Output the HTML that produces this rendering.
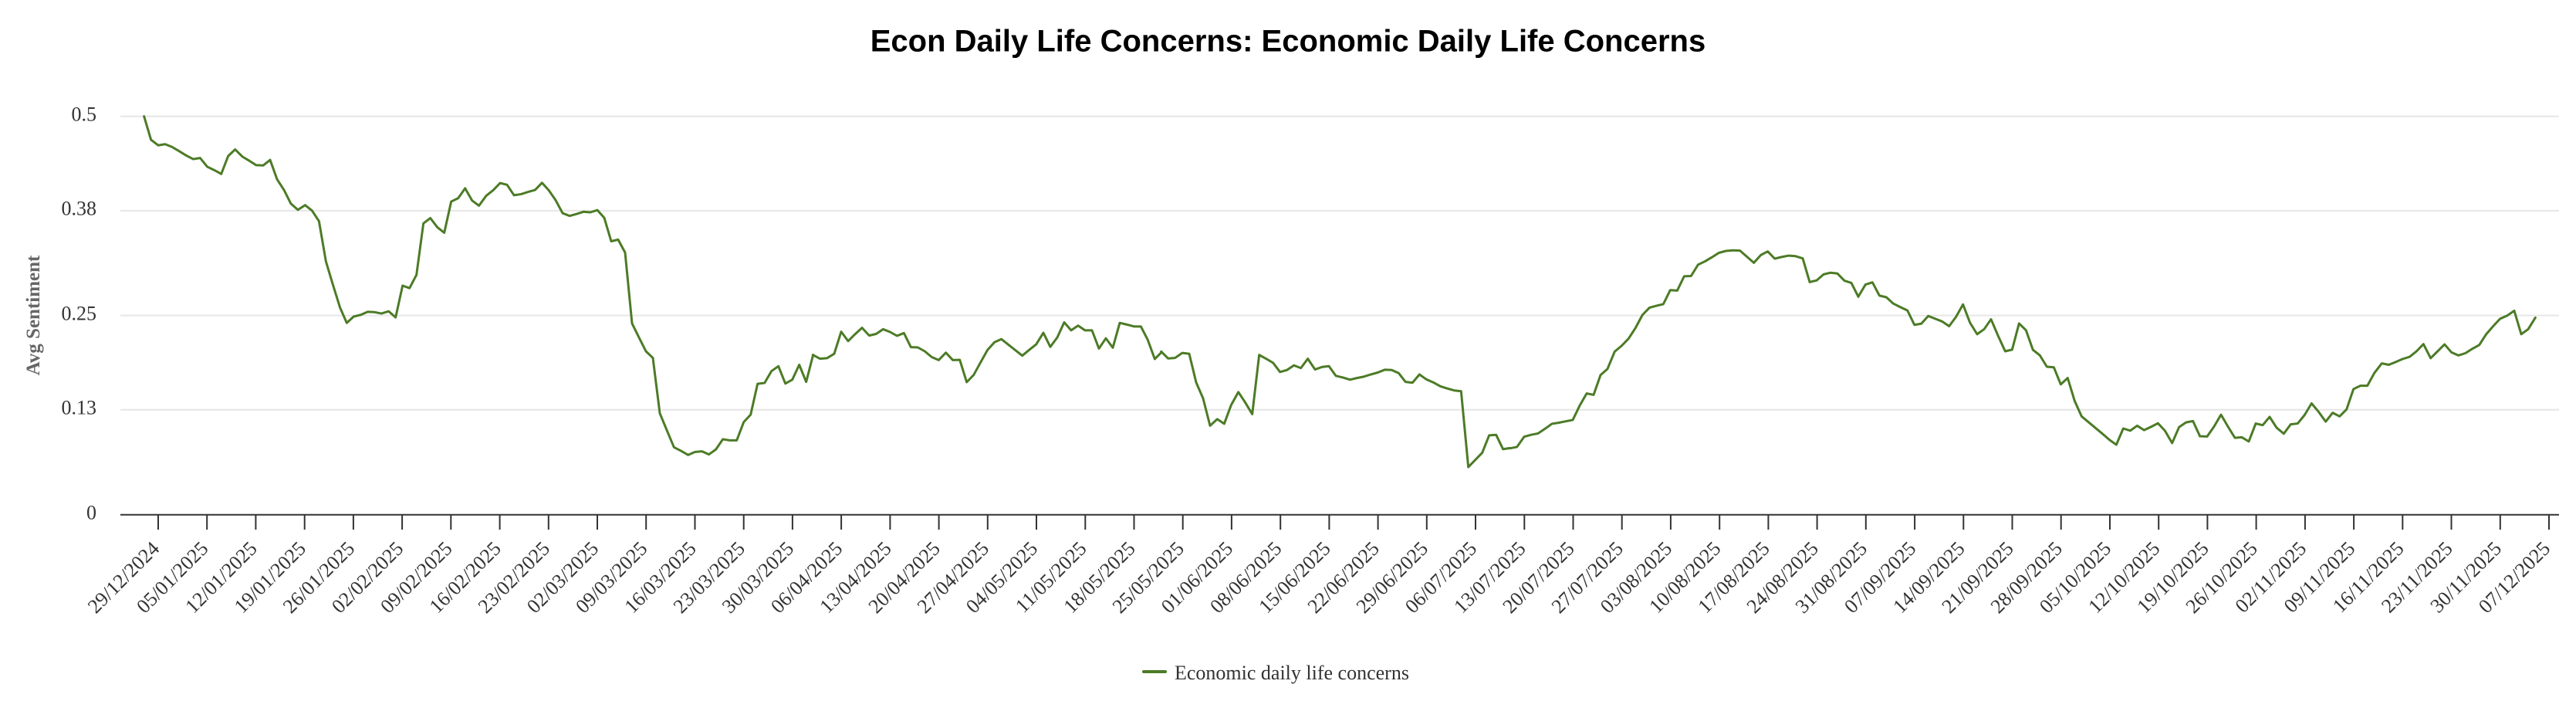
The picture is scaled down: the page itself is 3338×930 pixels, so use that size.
<!DOCTYPE html>
<html>
<head>
<meta charset="utf-8">
<style>
  html,body{margin:0;padding:0;background:#ffffff;}
  body{width:3338px;height:930px;overflow:hidden;}
  svg{display:block;}
  .xl{font-family:"Liberation Serif",serif;font-size:26px;fill:#333333;}
  .yl{font-family:"Liberation Serif",serif;font-size:26px;fill:#333333;}
</style>
</head>
<body>
<svg width="3338" height="930" viewBox="0 0 3338 930" xmlns="http://www.w3.org/2000/svg">
  <rect x="0" y="0" width="3338" height="930" fill="#ffffff"/>

  <!-- Title -->
  <text x="1669" y="66.7" text-anchor="middle" font-family="Liberation Sans, sans-serif" font-weight="bold" font-size="40" fill="#000000">Econ Daily Life Concerns: Economic Daily Life Concerns</text>

  <!-- Gridlines -->
  <g stroke="#e6e6e6" stroke-width="2">
    <line x1="156" y1="150.7" x2="3316" y2="150.7"/>
    <line x1="156" y1="272.9" x2="3316" y2="272.9"/>
    <line x1="156" y1="408.6" x2="3316" y2="408.6"/>
    <line x1="156" y1="530.7" x2="3316" y2="530.7"/>
  </g>

  <!-- Y tick labels -->
  <text class="yl" x="125" y="156.3" text-anchor="end">0.5</text>
  <text class="yl" x="125" y="278.5" text-anchor="end">0.38</text>
  <text class="yl" x="125" y="414.3" text-anchor="end">0.25</text>
  <text class="yl" x="125" y="536.3" text-anchor="end">0.13</text>
  <text class="yl" x="125" y="672.4" text-anchor="end">0</text>

  <!-- Y axis title -->
  <text transform="translate(51,408.5) rotate(-90)" text-anchor="middle" font-family="Liberation Serif, serif" font-weight="bold" font-size="25" fill="#666666">Avg Sentiment</text>

  <!-- X axis line -->
  <line x1="156" y1="666.8" x2="3316" y2="666.8" stroke="#333333" stroke-width="2"/>

  <!-- X ticks -->
  <path stroke="#333333" stroke-width="2" fill="none" d="
M205.0 667V686 M268.2 667V686 M331.4 667V686 M394.7 667V686 M457.9 667V686
M521.1 667V686 M584.3 667V686 M647.6 667V686 M710.8 667V686 M774.0 667V686
M837.2 667V686 M900.5 667V686 M963.7 667V686 M1026.9 667V686 M1090.1 667V686
M1153.4 667V686 M1216.6 667V686 M1279.8 667V686 M1343.0 667V686 M1406.3 667V686
M1469.5 667V686 M1532.7 667V686 M1595.9 667V686 M1659.2 667V686 M1722.4 667V686
M1785.6 667V686 M1848.8 667V686 M1912.0 667V686 M1975.3 667V686 M2038.5 667V686
M2101.7 667V686 M2164.9 667V686 M2228.2 667V686 M2291.4 667V686 M2354.6 667V686
M2417.8 667V686 M2481.1 667V686 M2544.3 667V686 M2607.5 667V686 M2670.7 667V686
M2734.0 667V686 M2797.2 667V686 M2860.4 667V686 M2923.6 667V686 M2986.9 667V686
M3050.1 667V686 M3113.3 667V686 M3176.5 667V686 M3239.8 667V686 M3303.0 667V686"/>

  <!-- X tick labels -->
  <g class="xl" text-anchor="end">
    <text transform="translate(208.0,712) rotate(-45)">29/12/2024</text>
    <text transform="translate(271.2,712) rotate(-45)">05/01/2025</text>
    <text transform="translate(334.4,712) rotate(-45)">12/01/2025</text>
    <text transform="translate(397.7,712) rotate(-45)">19/01/2025</text>
    <text transform="translate(460.9,712) rotate(-45)">26/01/2025</text>
    <text transform="translate(524.1,712) rotate(-45)">02/02/2025</text>
    <text transform="translate(587.3,712) rotate(-45)">09/02/2025</text>
    <text transform="translate(650.6,712) rotate(-45)">16/02/2025</text>
    <text transform="translate(713.8,712) rotate(-45)">23/02/2025</text>
    <text transform="translate(777.0,712) rotate(-45)">02/03/2025</text>
    <text transform="translate(840.2,712) rotate(-45)">09/03/2025</text>
    <text transform="translate(903.5,712) rotate(-45)">16/03/2025</text>
    <text transform="translate(966.7,712) rotate(-45)">23/03/2025</text>
    <text transform="translate(1029.9,712) rotate(-45)">30/03/2025</text>
    <text transform="translate(1093.1,712) rotate(-45)">06/04/2025</text>
    <text transform="translate(1156.4,712) rotate(-45)">13/04/2025</text>
    <text transform="translate(1219.6,712) rotate(-45)">20/04/2025</text>
    <text transform="translate(1282.8,712) rotate(-45)">27/04/2025</text>
    <text transform="translate(1346.0,712) rotate(-45)">04/05/2025</text>
    <text transform="translate(1409.3,712) rotate(-45)">11/05/2025</text>
    <text transform="translate(1472.5,712) rotate(-45)">18/05/2025</text>
    <text transform="translate(1535.7,712) rotate(-45)">25/05/2025</text>
    <text transform="translate(1598.9,712) rotate(-45)">01/06/2025</text>
    <text transform="translate(1662.2,712) rotate(-45)">08/06/2025</text>
    <text transform="translate(1725.4,712) rotate(-45)">15/06/2025</text>
    <text transform="translate(1788.6,712) rotate(-45)">22/06/2025</text>
    <text transform="translate(1851.8,712) rotate(-45)">29/06/2025</text>
    <text transform="translate(1915.0,712) rotate(-45)">06/07/2025</text>
    <text transform="translate(1978.3,712) rotate(-45)">13/07/2025</text>
    <text transform="translate(2041.5,712) rotate(-45)">20/07/2025</text>
    <text transform="translate(2104.7,712) rotate(-45)">27/07/2025</text>
    <text transform="translate(2167.9,712) rotate(-45)">03/08/2025</text>
    <text transform="translate(2231.2,712) rotate(-45)">10/08/2025</text>
    <text transform="translate(2294.4,712) rotate(-45)">17/08/2025</text>
    <text transform="translate(2357.6,712) rotate(-45)">24/08/2025</text>
    <text transform="translate(2420.8,712) rotate(-45)">31/08/2025</text>
    <text transform="translate(2484.1,712) rotate(-45)">07/09/2025</text>
    <text transform="translate(2547.3,712) rotate(-45)">14/09/2025</text>
    <text transform="translate(2610.5,712) rotate(-45)">21/09/2025</text>
    <text transform="translate(2673.7,712) rotate(-45)">28/09/2025</text>
    <text transform="translate(2737.0,712) rotate(-45)">05/10/2025</text>
    <text transform="translate(2800.2,712) rotate(-45)">12/10/2025</text>
    <text transform="translate(2863.4,712) rotate(-45)">19/10/2025</text>
    <text transform="translate(2926.6,712) rotate(-45)">26/10/2025</text>
    <text transform="translate(2989.9,712) rotate(-45)">02/11/2025</text>
    <text transform="translate(3053.1,712) rotate(-45)">09/11/2025</text>
    <text transform="translate(3116.3,712) rotate(-45)">16/11/2025</text>
    <text transform="translate(3179.5,712) rotate(-45)">23/11/2025</text>
    <text transform="translate(3242.8,712) rotate(-45)">30/11/2025</text>
    <text transform="translate(3306.0,712) rotate(-45)">07/12/2025</text>
  </g>

  <!-- Data series (traced in segments) -->
  <g fill="none" stroke="#4c7b26" stroke-width="3" stroke-linejoin="round" stroke-linecap="round">
    <g transform="translate(150,140) scale(0.333333,0.357143)">
      <polyline vector-effect="non-scaling-stroke" points="110,30 137,115 165,135 192,131 219,141 246,156 274,172 301,185 328,181 356,213 383,225 410,239 437,174 464,150 492,176 519,191 546,207 573,208 600,188 627,258 654,297 681,347 708,369 736,352 763,372 790,410 817,556 845,643 872,724 898,779 925,756 952,750 979,739 1006,740 1033,745 1061,737 1088,759 1115,644 1142,653 1169,605 1196,418 1223,399 1250,432 1277,452 1304,339 1331,327 1358,291"/>
    </g>
    <g transform="translate(600,140) scale(0.333333,0.357143)">
      <polyline vector-effect="non-scaling-stroke" points="8,291 35,335 62,354 90,318 117,298 144,272 171,278 198,316 226,312 253,304 280,297 307,271 334,299 360,334 387,381 414,391 441,384 468,376 495,378 522,370 549,398 576,483 603,477 630,524 657,781 684,832 711,882 738,906 765,1107 793,1170 820,1230 847,1243 875,1258 902,1247 929,1245 956,1256 983,1238 1010,1201 1037,1205 1064,1205 1091,1139 1118,1112 1145,1000 1172,997 1199,954 1226,936 1253,999 1280,985 1307,931 1334,993 1361,895"/>
    </g>
    <g transform="translate(1050,140) scale(0.333333,0.357143)">
      <polyline vector-effect="non-scaling-stroke" points="10,895 38,909 65,907 93,891 120,811 147,845 174,820 201,797 229,825 256,819 283,802 310,812 337,826 364,816 391,867 418,868 445,882 472,903 499,914 527,887 554,914 581,913 608,994 635,968 662,922 689,877 716,849 743,838 770,858 797,878 824,898 851,877 878,857 906,815 933,866 960,832 987,777 1014,806 1041,789 1068,806 1095,806 1122,872 1149,835 1176,869 1203,779 1230,785 1258,792 1285,792 1312,841 1339,910 1366,885"/>
    </g>
    <g transform="translate(1500,140) scale(0.333333,0.357143)">
      <polyline vector-effect="non-scaling-stroke" points="14,883 41,908 68,906 96,888 123,891 150,995 177,1053 204,1152 232,1128 259,1145 286,1077 314,1030 341,1068 368,1110 395,895 422,909 449,924 476,957 503,950 530,933 557,943 584,909 612,948 639,939 666,936 693,971 720,977 748,985 775,979 802,974 829,966 856,959 883,949 910,950 937,961 964,993 991,996 1018,966 1045,984 1072,995 1099,1009 1126,1017 1153,1024 1180,1027 1208,1302 1235,1276 1262,1250 1289,1187 1316,1185 1343,1237 1370,1233"/>
    </g>
    <g transform="translate(1950,140) scale(0.333333,0.357143)">
      <polyline vector-effect="non-scaling-stroke" points="20,1234 47,1229 75,1192 102,1185 129,1180 156,1163 183,1145 210,1141 237,1136 264,1131 291,1079 318,1035 345,1040 372,968 399,946 427,883 454,862 481,836 508,797 535,750 562,724 589,717 616,711 643,660 670,662 697,610 724,609 751,568 778,556 805,541 832,525 860,518 887,516 914,517 941,539 968,561 995,533 1022,520 1049,546 1076,540 1103,535 1130,537 1158,545 1185,631 1212,625 1239,603 1266,597 1293,600 1320,626 1347,634 1374,684"/>
    </g>
    <g transform="translate(2400,140) scale(0.333333,0.357143)">
      <polyline vector-effect="non-scaling-stroke" points="24,684 52,640 79,632 106,680 133,686 160,709 188,722 215,734 242,786 269,782 296,754 323,764 350,774 377,791 404,757 431,712 458,778 486,820 513,802 540,766 567,825 595,882 622,876 649,781 676,806 703,877 730,897 757,938 784,940 811,1002 838,979 865,1062 892,1118 919,1139 946,1160 973,1181 1000,1203 1027,1221 1054,1162 1081,1170 1108,1152 1135,1168 1162,1156 1189,1143 1216,1170 1244,1215 1271,1157 1298,1140 1325,1135 1352,1190"/>
    </g>
    <g transform="translate(2850,140) scale(0.333333,0.357143)">
      <polyline vector-effect="non-scaling-stroke" points="2,1190 30,1191 57,1155 84,1112 111,1155 138,1196 165,1194 192,1209 219,1144 246,1150 273,1120 300,1159 328,1181 355,1147 382,1144 409,1113 436,1071 463,1101 491,1137 518,1105 545,1118 572,1093 599,1019 626,1007 653,1007 680,961 709,926 736,931 763,921 790,910 817,902 844,882 871,856 899,907 926,882 953,857 980,886 1007,897 1034,889 1061,873 1088,859 1115,820 1142,791 1169,764 1196,753 1224,735 1251,820 1278,802 1306,760"/>
    </g>
  </g>

  <!-- Legend -->
  <line x1="1482" y1="870" x2="1510" y2="870" stroke="#4c7b26" stroke-width="4" stroke-linecap="round"/>
  <text x="1522" y="880" font-family="Liberation Serif, serif" font-size="26" fill="#333333">Economic daily life concerns</text>
</svg>
</body>
</html>
